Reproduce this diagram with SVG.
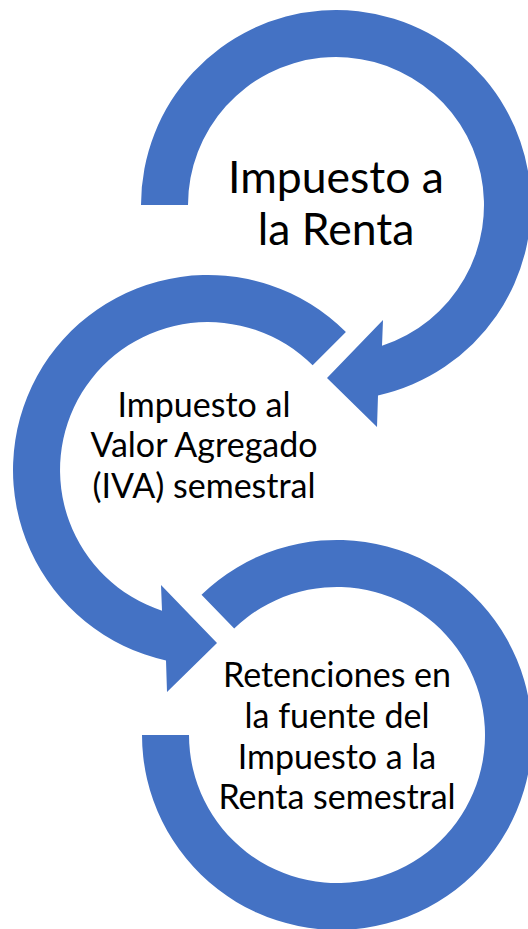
<svg xmlns="http://www.w3.org/2000/svg" width="528" height="929" viewBox="0 0 528 929">
<style>
.arr{fill:#4472C4;stroke:none}
.t{font-family:Lato,"Liberation Sans",sans-serif;fill:#000;text-anchor:middle}
.big{font-size:44.5px}
.sm{font-size:34px}
</style>
<rect width="528" height="929" fill="#fff"/>
<g id="connectors">
<path id="arrow1" class="arr" d="M141,205 A195,195 0 1 1 378,395.4 L377,427 L327,378 L383,320 L382,345.7 A148,148 0 1 0 188,205 Z"/>
<path id="arrow2" class="arr" d="M345.9,332.1 A195,195 0 1 0 166,660.4 L167,692 L217,643 L161,585 L162,610.7 A148,148 0 1 1 312.65,365.35 Z"/>
<path id="arrow3" class="arr" d="M201.5,594.7 A195,195 0 1 1 142,735 L189,735 A148,148 0 1 0 234.2,628.5 Z"/>
</g>
<g id="node1">
<text class="t big" x="336" y="193">Impuesto a</text>
<text class="t big" x="336" y="245">la Renta</text>
</g>
<g id="node2">
<text class="t sm" x="204" y="417">Impuesto al</text>
<text class="t sm" x="204" y="457">Valor Agregado</text>
<text class="t sm" x="204" y="498">(IVA) semestral</text>
</g>
<g id="node3">
<text class="t sm" x="337" y="687">Retenciones en</text>
<text class="t sm" x="337" y="728">la fuente del</text>
<text class="t sm" x="337" y="769">Impuesto a la</text>
<text class="t sm" x="337" y="809">Renta semestral</text>
</g>
</svg>
